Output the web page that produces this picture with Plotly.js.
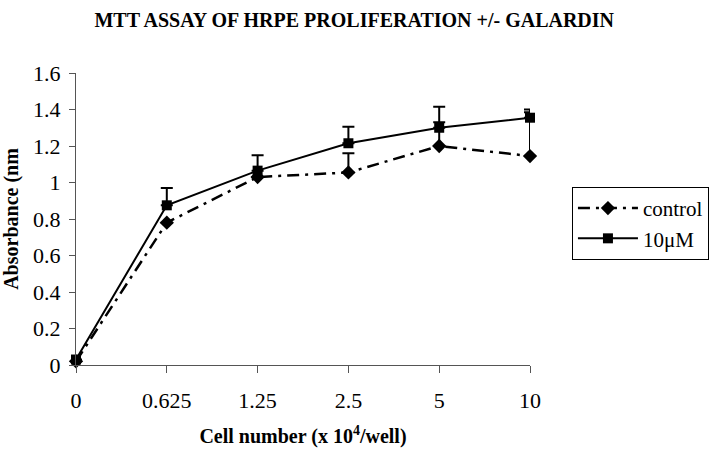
<!DOCTYPE html>
<html>
<head>
<meta charset="utf-8">
<script src="https://cdn.plot.ly/plotly-3.0.1.min.js"></script>
<style>html,body{margin:0;padding:0;background:#fff;}#chart{width:720px;height:453px;}</style>
</head>
<body>
<div id="chart"></div>
<script>
// Data
const cellNumbers = ["0", "0.625", "1.25", "2.5", "5", "10"];
const controlValues = [0.02, 0.78, 1.03, 1.055, 1.20, 1.145];
const controlErrors = [0, 0, 0, 0.105, 0.13, 0.24];
const galardinValues = [0.03, 0.875, 1.065, 1.215, 1.30, 1.355];
const galardinErrors = [0, 0.095, 0.085, 0.09, 0.115, 0.045];
const yTicks = [0, 0.2, 0.4, 0.6, 0.8, 1, 1.2, 1.4, 1.6];

const serif = "'Liberation Serif', 'Times New Roman', serif";

const traces = [
  {
    type: "scatter", mode: "lines+markers", name: "control",
    x: cellNumbers, y: controlValues,
    line: {color: "#000", width: 2.5, dash: "12px,6px,3px,6px"},
    marker: {symbol: "diamond", size: 11, color: "#000"},
    error_y: {type: "data", symmetric: false, array: controlErrors, arrayminus: controlErrors.map(() => 0),
              color: "#000", thickness: 2, width: 6},
    cliponaxis: false
  },
  {
    type: "scatter", mode: "lines+markers", name: "10\u03bcM",
    x: cellNumbers, y: galardinValues,
    line: {color: "#000", width: 2},
    marker: {symbol: "square", size: 10, color: "#000"},
    error_y: {type: "data", symmetric: false, array: galardinErrors, arrayminus: galardinErrors.map(() => 0),
              color: "#000", thickness: 2, width: 6},
    cliponaxis: false
  }
];

const layout = {
  width: 720, height: 453,
  paper_bgcolor: "#fff", plot_bgcolor: "#fff",
  margin: {l: 76, r: 189, t: 73, b: 88},
  font: {family: serif, color: "#000", size: 20},
  title: {
    text: "<b>MTT ASSAY OF HRPE PROLIFERATION +/- GALARDIN</b>",
    font: {family: serif, size: 20, color: "#000"},
    x: 0.492, xanchor: "center", xref: "container",
    y: 0.955, yanchor: "middle", yref: "container"
  },
  xaxis: {
    type: "category", range: [0, 5],
    showgrid: false, zeroline: false,
    showline: true, linecolor: "#555", linewidth: 1,
    ticks: "outside", ticklen: 7, tickcolor: "#555",
    ticklabelstandoff: 9,
    tickfont: {family: serif, size: 22, color: "#000"},
    title: {text: "<b>Cell number (x 10<sup>4</sup>/well)</b>", font: {family: serif, size: 20, color: "#000"}, standoff: 16}
  },
  yaxis: {
    range: [0, 1.6], tickvals: yTicks, ticktext: yTicks.map(String),
    showgrid: false, zeroline: false,
    showline: true, linecolor: "#555", linewidth: 1,
    ticks: "outside", ticklen: 6, tickcolor: "#555",
    ticklabelstandoff: 4,
    tickfont: {family: serif, size: 22, color: "#000"},
    title: {text: "<b>Absorbance (nm</b>", font: {family: serif, size: 20, color: "#000"}, standoff: 10}
  },
  showlegend: true,
  legend: {
    x: 1.09, xanchor: "left", y: 0.61, yanchor: "top",
    bordercolor: "#000", borderwidth: 1, bgcolor: "#fff",
    font: {family: serif, size: 21, color: "#000"},
    itemwidth: 60,
    tracegroupgap: 0
  }
};

Plotly.newPlot("chart", traces, layout, {displayModeBar: false, staticPlot: true});
</script>
</body>
</html>
